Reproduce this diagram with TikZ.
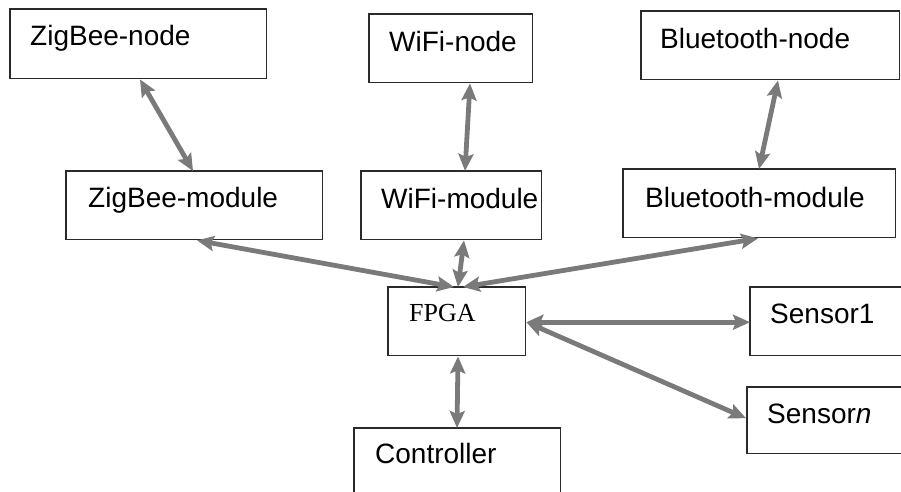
\documentclass[tikz,border=0pt]{standalone}
\usepackage{fontspec}
\setmainfont{Liberation Sans}
\newfontfamily\timesf{Liberation Serif}
\usetikzlibrary{arrows.meta,calc}
\definecolor{arrgray}{HTML}{7A7A7A}
\definecolor{boxline}{HTML}{2A2A2A}
\tikzset{
  box/.style={draw=boxline, line width=1.3pt, fill=white},
  lbl/.style={anchor=base west, inner sep=0pt, font=\fontsize{28}{30}\selectfont},
  tipshape/.style={{Stealth[length=17pt,width=15pt,inset=3pt]}-{Stealth[length=17pt,width=15pt,inset=3pt]}},
  link/.style={draw=arrgray, line width=4.8pt, tipshape}
}
\begin{document}
\begin{tikzpicture}[x=1pt,y=-1pt]
\useasboundingbox (0,0) rectangle (901,491);
\clip (0,0) rectangle (901,491);
\fill[white] (0,0) rectangle (901,491);
% boxes
\node[minimum width=256pt, minimum height=69pt, anchor=north west, inner sep=0pt] (zn) at (10,9) {};
\node[minimum width=163pt, minimum height=68pt, anchor=north west, inner sep=0pt] (wn) at (369,14) {};
\node[minimum width=258pt, minimum height=68pt, anchor=north west, inner sep=0pt] (bn) at (641,11) {};
\node[minimum width=256pt, minimum height=68pt, anchor=north west, inner sep=0pt] (zm) at (66,171) {};
\node[minimum width=180pt, minimum height=68pt, anchor=north west, inner sep=0pt] (wm) at (361,171) {};
\node[minimum width=272pt, minimum height=68pt, anchor=north west, inner sep=0pt] (bm) at (623,169) {};
\node[minimum width=137pt, minimum height=68pt, anchor=north west, inner sep=0pt] (fpga) at (388,287) {};
\node[minimum width=152pt, minimum height=68pt, anchor=north west, inner sep=0pt] (s1) at (750,287) {};
\node[minimum width=155pt, minimum height=66pt, anchor=north west, inner sep=0pt] (sn) at (747,387) {};
\node[minimum width=206pt, minimum height=70pt, anchor=north west, inner sep=0pt] (ctl) at (354,428) {};
\foreach \n in {zn,wn,bn,zm,wm,bm,fpga,s1,sn,ctl}{
  \draw[box] (\n.north west) rectangle (\n.south east);
}
% labels
\node[lbl] at ($(zn.north west)+(20,36)$) {ZigBee-node};
\node[lbl] at ($(wn.north west)+(20,37)$) {WiFi-node};
\node[lbl] at ($(bn.north west)+(19,37)$) {Bluetooth-node};
\node[lbl] at ($(zm.north west)+(22,36)$) {ZigBee-module};
\node[lbl] at ($(wm.north west)+(20,37)$) {WiFi-module};
\node[lbl] at ($(bm.north west)+(22,38)$) {Bluetooth-module};
\node[lbl, font=\timesf\fontsize{26}{28}\selectfont] at ($(fpga.north west)+(21,34)$) {FPGA};
\node[lbl] at ($(s1.north west)+(20,36)$) {Sensor1};
\node[lbl] at ($(sn.north west)+(20,36)$) {Sensor\textit{n}};
\node[lbl] at ($(ctl.north west)+(21,35)$) {Controller};
% connectors
\draw[link] ($(zn.south west)+(130,1)$) -- ($(zm.north west)+(127,0)$);
\draw[link] ($(wn.south west)+(101,1)$) -- ($(wm.north west)+(104,0)$);
\draw[link] ($(bn.south west)+(137,1)$) -- ($(bm.north west)+(136,0)$);
\draw[link] ($(zm.south west)+(131,1)$) -- ($(fpga.north west)+(66,0)$);
\draw[link] ($(wm.south west)+(103,1)$) -- ($(fpga.north west)+(70,0)$);
\draw[link] ($(bm.south west)+(135,1)$) -- ($(fpga.north west)+(75,0)$);
\draw[link] ($(fpga.east)+(1,1)$) -- ($(s1.west)+(0,1)$);
\draw[link] ($(fpga.east)+(1,1)$) -- ($(sn.west)+(-1,-2)$);
\draw[link] ($(fpga.south west)+(70,1)$) -- ($(ctl.north west)+(103,0)$);
\end{tikzpicture}
\end{document}
